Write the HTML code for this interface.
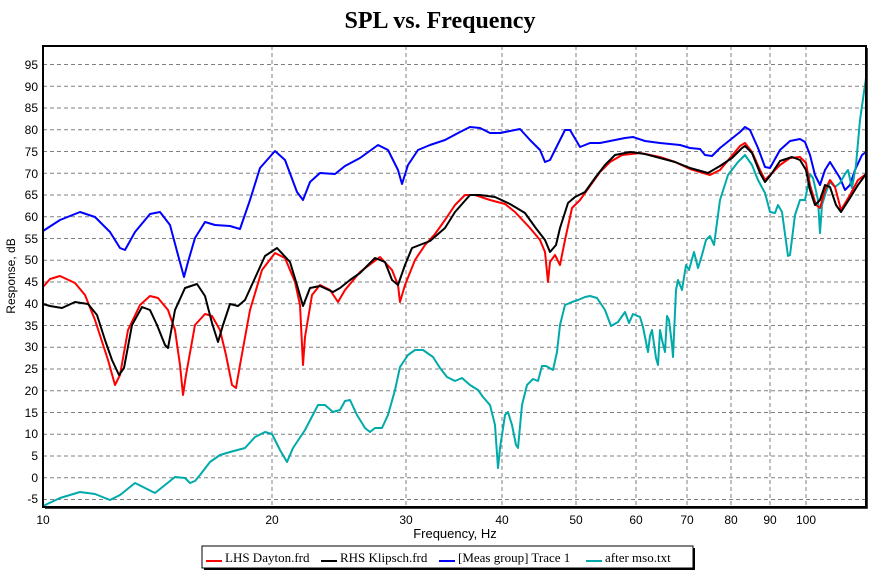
<!DOCTYPE html>
<html><head><meta charset="utf-8"><style>
body{margin:0;background:#fff;}
svg{display:block;font-family:"Liberation Sans",sans-serif;}
</style></head><body>
<svg width="877" height="575" viewBox="0 0 877 575">
<rect width="877" height="575" fill="#fff"/>
<text x="440" y="28" text-anchor="middle" font-family="Liberation Serif,serif" font-weight="bold" font-size="24">SPL vs. Frequency</text>
<g stroke="#808080" stroke-width="1" stroke-dasharray="4,3" fill="none">
<path d="M43 499.5H866M43 477.7H866M43 456H866M43 434.2H866M43 412.5H866M43 390.7H866M43 369H866M43 347.2H866M43 325.5H866M43 303.7H866M43 282H866M43 260.2H866M43 238.5H866M43 216.7H866M43 195H866M43 173.2H866M43 151.5H866M43 129.7H866M43 108H866M43 86.2H866M43 64.5H866"/>
<path d="M272 46V507M406 46V507M502 46V507M576 46V507M636 46V507M687 46V507M731 46V507M770 46V507M806 46V507"/>
</g>
<g font-size="12" fill="#000" text-anchor="end">
<text x="38" y="503">-5</text><text x="38" y="482">0</text><text x="38" y="460">5</text><text x="38" y="438">10</text><text x="38" y="417">15</text><text x="38" y="395">20</text><text x="38" y="373">25</text><text x="38" y="351">30</text><text x="38" y="330">35</text><text x="38" y="308">40</text><text x="38" y="286">45</text><text x="38" y="264">50</text><text x="38" y="243">55</text><text x="38" y="221">60</text><text x="38" y="199">65</text><text x="38" y="178">70</text><text x="38" y="156">75</text><text x="38" y="134">80</text><text x="38" y="112">85</text><text x="38" y="91">90</text><text x="38" y="69">95</text>
</g>
<g font-size="12" fill="#000" text-anchor="middle">
<text x="43" y="524">10</text><text x="272" y="524">20</text><text x="406" y="524">30</text><text x="502" y="524">40</text><text x="576" y="524">50</text><text x="636" y="524">60</text><text x="687" y="524">70</text><text x="731" y="524">80</text><text x="770" y="524">90</text><text x="806" y="524">100</text>
</g>
<text x="455" y="538" text-anchor="middle" font-size="13">Frequency, Hz</text>
<text transform="translate(15,276) rotate(-90)" text-anchor="middle" font-size="12">Response, dB</text>
<g fill="none" stroke-width="2" stroke-linejoin="round">
<polyline stroke="#0000ff" points="43,231 60,220 80,212 95,217 110,232 120,248 125,250 135,232 150,214 160,212 170,225 178,255 184,277 188,262 195,238 205,222 215,225 230,226 240,229 250,200 260,168 275,151 285,160 297,192 303,200 310,182 320,173 335,174 345,166 360,158 378,145 388,150 398,170 402,184 408,165 418,150 430,145 445,140 460,132 470,127 480,128 490,133 500,133 510,131 520,129 530,140 540,150 545,162 550,160 560,140 565,130 570,130 580,147 590,143 600,143 615,140 625,138 633,137 645,141 660,143 680,145 690,148 700,149 705,155 712,156 720,148 730,140 740,132 745,127 750,130 758,148 765,167 770,168 780,150 790,141 800,139 805,142 810,155 815,175 820,185 825,170 830,162 840,178 845,190 850,185 855,170 862,155 866,152"/>
<polyline stroke="#00aaaa" points="43,506 60,498 80,492 95,494 110,500 120,495 135,483 145,488 155,493 165,485 175,477 185,478 190,483 195,481 200,475 210,462 220,455 230,452 245,448 255,437 265,432 272,434 280,450 287,462 293,448 305,430 318,405 325,405 333,412 340,410 345,401 350,400 357,415 365,428 370,432 375,428 382,428 388,415 395,390 400,367 408,355 415,350 423,350 433,357 440,368 447,377 455,381 462,378 470,385 478,390 483,397 490,405 495,425 498,468 500,448 505,415 508,412 512,425 516,445 518,448 522,405 527,385 533,379 538,381 542,366 546,366 553,370 557,352 560,325 565,305 572,302 578,300 585,297 590,296 597,298 605,310 611,326 618,322 625,312 629,323 633,314 640,317 643,327 648,352 650,336 652,330 656,358 658,365 660,330 662,340 665,352 667,316 669,320 672,345 673,357 676,290 678,280 682,290 686,265 689,270 694,252 698,268 702,255 706,240 710,236 714,245 720,200 728,175 738,162 745,155 752,165 758,180 765,193 770,212 775,213 778,205 782,212 788,256 790,255 795,215 800,200 805,200 808,185 810,174 813,178 818,200 820,233 822,205 826,192 830,182 835,187 840,183 845,174 848,170 852,188 856,165 860,120 866,78"/>
<polyline stroke="#ff0000" points="43,287 50,279 60,276 75,283 85,295 95,320 108,360 115,385 120,375 128,330 140,305 150,296 158,298 168,310 175,330 180,365 183,395 186,375 195,325 205,314 212,316 220,330 226,355 232,385 236,388 240,365 250,310 262,270 275,253 285,258 295,282 300,305 303,365 305,337 312,295 320,285 330,290 338,302 345,290 360,272 380,257 392,270 398,285 400,302 405,285 415,260 425,245 435,234 445,220 455,205 465,195 475,195 490,200 505,204 515,212 530,228 540,240 545,252 548,282 550,262 555,255 560,265 565,240 572,208 580,200 590,186 600,172 610,162 622,155 640,153 660,157 675,162 690,169 700,172 710,175 720,170 730,158 740,146 745,143 752,152 760,170 765,180 770,175 780,165 790,158 800,157 806,163 810,185 816,205 820,208 825,190 830,180 835,187 841,210 850,195 858,180 866,174"/>
<polyline stroke="#000000" points="43,304 50,306 62,308 75,302 88,304 97,315 105,340 112,360 119,375 124,368 132,325 142,307 150,310 157,325 165,345 168,348 175,310 185,288 197,284 205,296 212,323 218,342 223,325 230,304 238,306 245,300 255,278 265,256 277,248 290,262 297,285 303,306 310,288 320,286 333,292 340,288 350,280 360,273 375,258 385,262 392,280 398,285 405,265 412,248 430,241 445,228 455,212 470,195 480,195 495,197 510,204 525,213 535,227 545,240 550,252 556,245 560,228 568,203 575,197 585,192 595,178 605,165 615,155 630,152 645,154 660,158 675,162 690,168 708,173 720,166 732,158 742,148 745,146 752,153 760,173 765,182 770,176 780,161 792,157 800,160 806,170 810,190 815,205 820,200 825,185 830,187 836,205 841,212 850,198 858,185 866,174"/>
</g>
<rect x="43" y="46" width="823" height="461" fill="none" stroke="#000" stroke-width="2"/>
<path d="M867 48V508H45" fill="none" stroke="#000" stroke-width="1.5"/>
<rect x="204" y="548" width="491" height="22" fill="#000"/>
<rect x="202" y="546" width="491" height="22" fill="#fff" stroke="#000" stroke-width="1"/>
<g font-family="Liberation Serif,serif" font-size="13" fill="#000">
<line x1="206" y1="561" x2="222" y2="561" stroke="#ff0000" stroke-width="2"/><text x="225" y="562">LHS Dayton.frd</text>
<line x1="321" y1="561" x2="337" y2="561" stroke="#000" stroke-width="2"/><text x="340" y="562">RHS Klipsch.frd</text>
<line x1="439" y1="561" x2="455" y2="561" stroke="#0000ff" stroke-width="2"/><text x="458" y="562">[Meas group] Trace 1</text>
<line x1="586" y1="561" x2="602" y2="561" stroke="#00aaaa" stroke-width="2"/><text x="605" y="562">after mso.txt</text>
</g>
</svg>
</body></html>
